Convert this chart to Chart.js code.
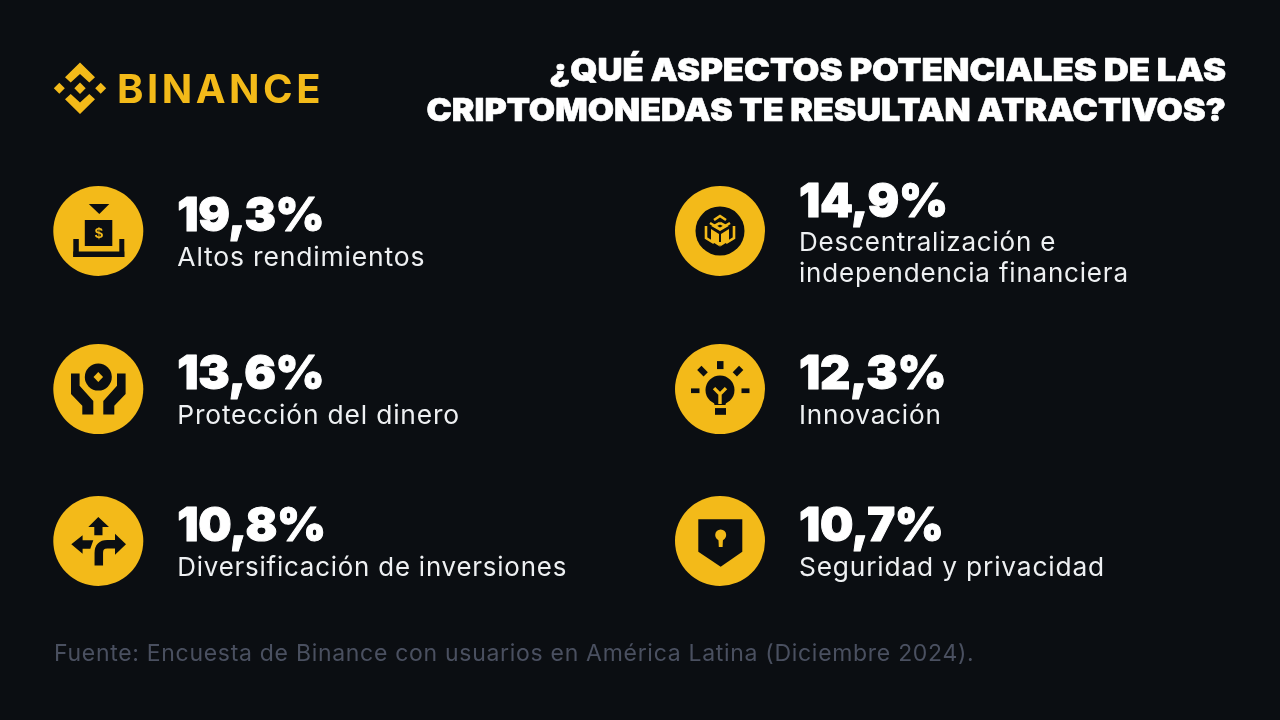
<!DOCTYPE html>
<html lang="es"><head><meta charset="utf-8">
<style>html,body{margin:0;padding:0;background:#0b0e12}canvas{display:block}</style>
<script src="https://cdn.jsdelivr.net/npm/chart.js@4/dist/chart.umd.min.js"></script>
</head><body><canvas id="c" width="1280" height="720"></canvas>
<script>
const categories = ['Altos rendimientos','Descentralización e\nindependencia financiera','Protección del dinero','Innovación','Diversificación de inversiones','Seguridad y privacidad'];
const values = [19.3,14.9,13.6,12.3,10.8,10.7];
const columns = [0,1,0,1,0,1];
const rows = [0,0,1.02,1.02,2,2];
const titleLines = ['¿QUÉ ASPECTOS POTENCIALES DE LAS','CRIPTOMONEDAS TE RESULTAN ATRACTIVOS?'];
const sourceText = 'Fuente: Encuesta de Binance con usuarios en América Latina (Diciembre 2024).';
const brand = 'BINANCE';

const YEL='#f3ba19', BG='#0b0e12';
const labelFit=[1.02,1,1.015,1.005,0.995,1.013], titleFit=[1.117,1.096];
function poly(c,pts,fill){c.beginPath();pts.forEach((p,i)=>i?c.lineTo(p[0],p[1]):c.moveTo(p[0],p[1]));c.closePath();c.fillStyle=fill||BG;c.fill();}
function rect(c,x0,y0,x1,y1,f){c.fillStyle=f||BG;c.fillRect(x0,y0,x1-x0,y1-y0);}
function disc(c,x,y,r,f){c.beginPath();c.arc(x,y,r,0,Math.PI*2);c.fillStyle=f||BG;c.fill();}
const icons=[
 c=>{ // money box
  poly(c,[[-9.5,-27],[11,-27],[1,-17]]);
  rect(c,-13.5,-11,14,15);
  rect(c,-25,8,-19.5,26);rect(c,21,8,26,26);rect(c,-25,20.5,26,26);
  c.fillStyle=YEL;c.font='700 15px "Liberation Sans"';c.textAlign='center';c.textBaseline='middle';c.fillText('$',0.5,2.5);
 },
 c=>{ // cube
  disc(c,0,0,24.5);
  c.save();c.strokeStyle=YEL;c.lineWidth=2.6;c.lineJoin='miter';
  const seg=a=>{c.beginPath();a.forEach((p,i)=>i?c.lineTo(p[0],p[1]):c.moveTo(p[0],p[1]));c.stroke();};
  seg([[-6,-11],[0,-15],[6,-11]]);
  seg([[-14,-5],[-14,7],[-6,12]]);seg([[14,-5],[14,7],[6,12]]);
  seg([[-10,-8],[0,-2],[10,-8]]);seg([[0,-8],[-6,-5],[0,-1.5],[6,-5],[0,-8]]);
  c.restore();
  poly(c,[[-9,-2],[-1,3],[-1,15],[-9,10]],YEL);poly(c,[[9,-2],[1,3],[1,15],[9,10]],YEL);
  poly(c,[[-2.5,11],[0,16],[2.5,11]],YEL);
 },
 c=>{ // hands
  disc(c,0,-12,13.5);
  poly(c,[[0,-17],[4.8,-12],[0,-7],[-4.8,-12]],YEL);
  [1,-1].forEach(s=>poly(c,[[-27.3*s,-15.7],[-18.7*s,-15.7],[-18.7*s,-3.3],[-5*s,12],[-5*s,25.3],[-16*s,25.3],[-16*s,16.7],[-27.3*s,5]]));
 },
 c=>{ // bulb
  disc(c,0,1,14.5);
  poly(c,[[-7,8],[7,8],[5.5,16],[-5.5,16]]);
  rect(c,-5,19,6,25.7);rect(c,-3,-28,3.5,-20);rect(c,-29,-0.7,-20.5,4);rect(c,21.5,-0.7,29.5,4);
  [[-17.5,-18,1],[18,-18,-1]].forEach(([x,y,s])=>{c.save();c.translate(x,y);c.rotate(s*Math.PI/4);rect(c,-4.5,-3,4.5,3);c.restore();});
  c.save();c.strokeStyle=YEL;c.lineWidth=3.4;c.beginPath();c.moveTo(-6,-1);c.lineTo(0,5);c.lineTo(6,-1);c.moveTo(0,5);c.lineTo(0,15);c.stroke();c.restore();
 },
 c=>{ // arrows
  poly(c,[[0,-24],[10.7,-14],[4.2,-14],[4.2,-5.7],[-4,-5.7],[-4,-14],[-10,-14]]);
  poly(c,[[-27,3.3],[-15.7,-5.7],[-15.7,-0.7],[-5,-0.7],[-8,7.7],[-15.7,7.7],[-15.7,12.7]]);
  c.save();c.strokeStyle=BG;c.lineWidth=8.5;c.beginPath();c.moveTo(0.5,24.5);c.lineTo(0.5,12);c.quadraticCurveTo(0.5,3.3,9,3.3);c.lineTo(18,3.3);c.stroke();c.restore();
  poly(c,[[27.7,3.3],[16.7,-7.3],[16.7,13.7]]);
 },
 c=>{ // shield
  poly(c,[[-21.7,-21.7],[22.3,-21.7],[22.3,10.7],[0.7,25.7],[-21.7,10.7]]);
  disc(c,0.7,-6,5.5,YEL);
  poly(c,[[-1.6,-3],[3,-3],[2.6,6],[-1.2,6]],YEL);
 }
];
function logo(c,x,y){
 const s=(pts,f)=>poly(c,pts.map(p=>[x+p[0],y+p[1]]),YEL);
 s([[0,-5.7],[5.7,0],[0,5.7],[-5.7,0]]);
 s([[-20.7,-5.5],[-15.2,0],[-20.7,5.5],[-26.2,0]]);
 s([[20.7,-5.5],[26.2,0],[20.7,5.5],[15.2,0]]);
 [1,-1].forEach(k=>s([[0,-25.7*k],[15,-11*k],[9.3,-5.7*k],[0,-14.3*k],[-9.3,-5.7*k],[-15,-11*k]]));
}
function text(c,t,x,y,font,fill,align,sp,sx,sw){c.save();c.translate(x,y);c.scale(sx||1,1);c.font=font;c.fillStyle=fill;c.textAlign=align||'left';c.textBaseline='alphabetic';c.letterSpacing=sp||'0px';c.fillText(t,0,0);if(sw){c.strokeStyle=fill;c.lineWidth=sw;c.lineJoin='round';c.strokeText(t,0,0);}c.restore();}

const overlay={id:'overlay',afterDatasetsDraw(ch){
 const c=ch.ctx,pts=ch.getDatasetMeta(0).data;
 c.save();
 pts.forEach((p,i)=>{
  c.save();c.translate(p.x,p.y);icons[i](c);c.restore();
  const lines=categories[i].split('\n'),tx=p.x+79;
  const vy=p.y+(lines.length>1?-14:0);
  const val=values[i].toFixed(1).replace('.',',')+'%';
  text(c,val,tx,vy,'900 47px Inter','#ffffff','left','-0.3px',1,1);
  lines.forEach((l,k)=>text(c,l,tx,p.y+(lines.length>1?20:35)+k*31,'400 26px Inter','#eef0f2','left','0.8px',labelFit[i]));
 });
 logo(c,80,88.3);
 text(c,brand,117,103,'700 40px Inter',YEL,'left','3.5px');
 titleLines.forEach((l,k)=>text(c,l,1226,81+k*40,'900 31px Inter','#ffffff','right','0px',titleFit[k],0.6));
 text(c,sourceText,54,661,'400 23px Inter','#4a5060','left','0.7px');
 c.restore();
}};
const X0=98.3,Y0=231,DX=621.7,DY=155;
new Chart(document.getElementById('c'),{
 type:'scatter',
 data:{labels:categories,datasets:[{label:'Aspectos atractivos (%)',data:columns.map((x,i)=>({x,y:rows[i],v:values[i]})),pointRadius:45,pointHoverRadius:45,pointBackgroundColor:YEL,pointBorderWidth:0}]},
 options:{responsive:false,animation:false,devicePixelRatio:1,
  layout:{padding:0,autoPadding:false},
  scales:{x:{type:'linear',display:false,min:-X0/DX,max:(1280-X0)/DX},y:{type:'linear',display:false,reverse:true,min:-Y0/DY,max:(720-Y0)/DY}},
  plugins:{legend:{display:false},tooltip:{enabled:false},title:{display:false}}},
 plugins:[{id:'bg',beforeDraw(ch){ch.ctx.fillStyle=BG;ch.ctx.fillRect(0,0,1280,720);}},overlay]
});
</script></body></html>
